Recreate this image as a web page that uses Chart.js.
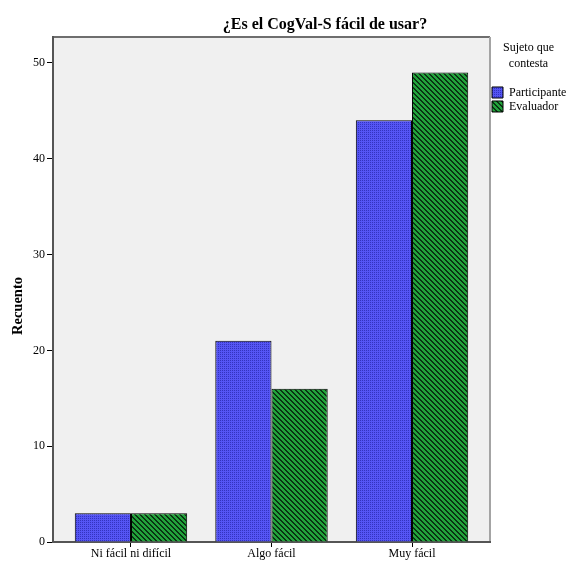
<!DOCTYPE html>
<html>
<head>
<meta charset="utf-8">
<script src="https://cdn.jsdelivr.net/npm/chart.js@4"></script>
<style>
  html, body { margin: 0; padding: 0; background: #ffffff; }
  #wrap { width: 567px; height: 565px; position: relative; }
</style>
</head>
<body>
<div id="wrap"><canvas id="c"></canvas></div>
<script>
// ---- data ----
const chartTitle = '¿Es el CogVal-S fácil de usar?';
const categories = ['Ni fácil ni difícil', 'Algo fácil', 'Muy fácil'];
const participante = [3, 21, 44];
const evaluador = [3, 16, 49];
const seriesNames = ['Participante', 'Evaluador'];
const legendTitle = ['Sujeto que', 'contesta'];
const yTicks = [0, 10, 20, 30, 40, 50];
const yAxisTitle = 'Recuento';

// ---- patterns ----
function makePattern(size, base, ink, isInk) {
  const c = document.createElement('canvas');
  c.width = size; c.height = size;
  const g = c.getContext('2d');
  g.fillStyle = base; g.fillRect(0, 0, size, size);
  g.fillStyle = ink;
  for (let y = 0; y < size; y++) for (let x = 0; x < size; x++) {
    if (isInk(x, y)) g.fillRect(x, y, 1, 1);
  }
  return document.getElementById('c').getContext('2d').createPattern(c, 'repeat');
}
const bluePattern = makePattern(4, '#5555f4', '#3333bf', (x, y) => (x % 2 === 0 && y % 2 === 0));
const greenPattern = makePattern(5, '#22a33b', '#0a3313', (x, y) => ((x - y + 10) % 5 === 0) || ((x - y + 10) % 5 === 1));

Chart.defaults.color = '#000';
Chart.defaults.font.family = "'Liberation Serif', 'Times New Roman', serif";

const plotBox = {
  id: 'plotBox',
  beforeDraw(chart) {
    const a = chart.chartArea, ctx = chart.ctx;
    ctx.save();
    ctx.fillStyle = '#f0f0f0';
    ctx.fillRect(a.left, a.top, a.right - a.left, a.bottom - a.top);
    ctx.lineWidth = 2;
    ctx.strokeStyle = '#6e6e6e';
    ctx.beginPath(); ctx.moveTo(a.left, a.top); ctx.lineTo(a.right, a.top); ctx.stroke();
    ctx.strokeStyle = '#a4a4a4';
    ctx.beginPath(); ctx.moveTo(a.right, a.top); ctx.lineTo(a.right, a.bottom); ctx.stroke();
    // chart title
    ctx.fillStyle = '#000';
    ctx.font = "bold 16px 'Liberation Serif', serif";
    ctx.textAlign = 'center';
    ctx.textBaseline = 'alphabetic';
    ctx.fillText(chartTitle, 325, 29);
    // y-axis title
    ctx.save();
    ctx.translate(18, 306);
    ctx.rotate(-Math.PI / 2);
    ctx.font = "bold 14.5px 'Liberation Serif', serif";
    ctx.textBaseline = 'middle';
    ctx.fillText(yAxisTitle, 0, 0);
    ctx.restore();
    ctx.restore();
  }
};

new Chart(document.getElementById('c'), {
  type: 'bar',
  data: {
    datasets: [
      { label: seriesNames[0], data: participante.map((v, i) => ({ x: i, y: v })),
        backgroundColor: bluePattern, borderColor: '#000', borderWidth: 1 },
      { label: seriesNames[1], data: evaluador.map((v, i) => ({ x: i, y: v })),
        backgroundColor: greenPattern, borderColor: '#000', borderWidth: 1 }
    ]
  },
  options: {
    responsive: true,
    maintainAspectRatio: false,
    animation: false,
    layout: { padding: { top: 37, right: 0, bottom: 0, left: 0 } },
    datasets: { bar: { categoryPercentage: 0.8, barPercentage: 1 } },
    plugins: {
      title: { display: false },
      tooltip: { enabled: false },
      legend: {
        position: 'right',
        align: 'start',
        maxWidth: 77,
        title: {
          display: true,
          text: legendTitle,
          font: { size: 12, lineHeight: 1.3333 },
          padding: { top: 5, bottom: 26.5 }
        },
        labels: {
          boxWidth: 11, boxHeight: 11, padding: 2,
          font: { size: 12 }
        }
      }
    },
    scales: {
      x: {
        type: 'linear',
        offset: false,
        min: -0.555, max: 2.555,
        afterBuildTicks: s => { s.ticks = categories.map((_, i) => ({ value: i })); },
        afterFit: s => { s.height = 23; },
        grid: { display: true, drawOnChartArea: false, drawTicks: true, tickLength: 5, tickColor: '#000', offset: false },
        border: { display: true, color: '#555', width: 2 },
        ticks: { callback: v => categories[v], font: { size: 12 }, padding: 0, maxRotation: 0, autoSkip: false }
      },
      y: {
        min: 0, max: 52.7,
        afterBuildTicks: s => { s.ticks = yTicks.map(v => ({ value: v })); },
        afterFit: s => { s.width = 53; },
        grid: { display: true, drawOnChartArea: false, drawTicks: true, tickLength: 6, tickColor: '#000' },
        border: { display: true, color: '#555', width: 2 },
        ticks: { font: { size: 12 }, padding: 2 },
        title: { display: false }
      }
    }
  },
  plugins: [plotBox]
});
</script>
</body>
</html>
